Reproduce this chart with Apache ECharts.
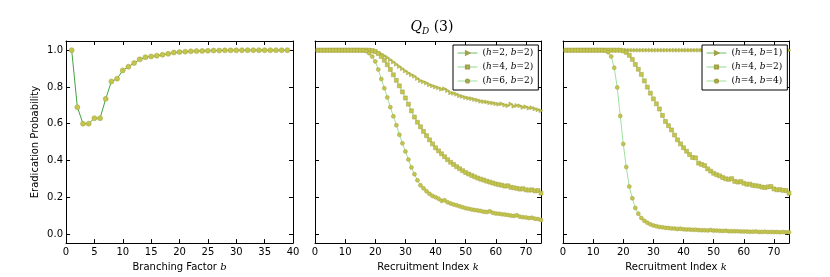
<!DOCTYPE html>
<html><head><meta charset="utf-8">
<script src="https://cdn.jsdelivr.net/npm/echarts@6/dist/echarts.min.js"></script>
<style>html,body{margin:0;padding:0;background:#fff}#c{width:830px;height:277px}</style>
</head><body><div id="c"></div>
<script>
// ---- data ----
var bValues = [1,2,3,4,5,6,7,8,9,10,11,12,13,14,15,16,17,18,19,20,21,22,23,24,25,26,27,28,29,30,31,32,33,34,35,36,37,38,39];
var probByB = [1.0,0.69,0.60,0.60,0.63,0.63,0.735,0.83,0.845,0.89,0.91,0.93,0.95,0.962,0.966,0.97,0.975,0.98,0.987,0.99,0.992,0.994,0.995,0.996,0.997,0.998,0.998,0.999,0.999,0.999,1.0,1.0,1.0,1.0,1.0,1.0,1.0,1.0,1.0];

var kValues = [1,2,3,4,5,6,7,8,9,10,11,12,13,14,15,16,17,18,19,20,21,22,23,24,25,26,27,28,29,30,31,32,33,34,35,36,37,38,39,40,41,42,43,44,45,46,47,48,49,50,51,52,53,54,55,56,57,58,59,60,61,62,63,64,65,66,67,68,69,70,71,72,73,74,75];

var h2b2 = [1,1,1,1,1,1,1,1,1,1,1,1,1,1,1,1,1,0.999,0.997,0.993,0.987,0.979,0.970,0.960,0.948,0.936,0.923,0.911,0.899,0.887,0.876,0.866,0.858,0.846,0.834,0.828,0.821,0.812,0.806,0.800,0.795,0.788,0.790,0.780,0.768,0.765,0.760,0.752,0.748,0.742,0.739,0.736,0.731,0.728,0.722,0.720,0.718,0.714,0.712,0.709,0.706,0.708,0.701,0.698,0.707,0.695,0.699,0.697,0.689,0.692,0.685,0.687,0.681,0.676,0.671];
var h4b2 = [1,1,1,1,1,1,1,1,1,1,1,1,1,1,1,1,1,1,0.998,0.993,0.982,0.966,0.945,0.921,0.895,0.866,0.836,0.806,0.773,0.740,0.706,0.670,0.636,0.608,0.583,0.558,0.535,0.512,0.490,0.469,0.452,0.436,0.420,0.404,0.390,0.378,0.366,0.355,0.344,0.334,0.326,0.318,0.311,0.304,0.298,0.293,0.287,0.282,0.277,0.272,0.268,0.265,0.260,0.262,0.254,0.251,0.248,0.244,0.246,0.240,0.238,0.240,0.234,0.236,0.222];
var h6b2 = [1,1,1,1,1,1,1,1,1,1,1,1,1,1,1,0.999,0.995,0.984,0.965,0.939,0.895,0.843,0.793,0.743,0.690,0.640,0.592,0.540,0.493,0.449,0.405,0.362,0.325,0.292,0.265,0.248,0.232,0.218,0.207,0.200,0.192,0.180,0.183,0.172,0.166,0.160,0.156,0.150,0.145,0.140,0.137,0.133,0.130,0.128,0.125,0.121,0.119,0.123,0.115,0.111,0.110,0.107,0.105,0.103,0.100,0.098,0.101,0.094,0.091,0.090,0.086,0.088,0.083,0.081,0.076];

var h4b1 = [1,1,1,1,1,1,1,1,1,1,1,1,1,1,1,1,1,1,1,1,1,1,1,1,1,1,1,1,1,1,1,1,1,1,1,1,1,1,1,1,1,1,1,1,1,1,1,1,1,1,1,1,1,1,1,1,1,1,1,1,1,1,1,1,1,1,1,1,1,1,1,1,1,1,1];
var h4b2r = [1,1,1,1,1,1,1,1,1,1,1,1,1,1,1,1,1,1,1,0.996,0.988,0.972,0.950,0.922,0.896,0.868,0.833,0.799,0.766,0.735,0.708,0.680,0.645,0.612,0.589,0.566,0.538,0.512,0.490,0.469,0.450,0.432,0.416,0.414,0.385,0.378,0.372,0.354,0.342,0.330,0.322,0.316,0.307,0.300,0.297,0.301,0.286,0.282,0.285,0.276,0.270,0.271,0.264,0.262,0.260,0.255,0.252,0.256,0.258,0.245,0.240,0.241,0.237,0.236,0.222];
var h4b4 = [1,1,1,1,1,1,1,1,1,1,1,1,1,0.998,0.989,0.966,0.904,0.797,0.642,0.490,0.364,0.258,0.194,0.141,0.110,0.087,0.071,0.061,0.052,0.046,0.042,0.038,0.036,0.033,0.032,0.030,0.029,0.027,0.028,0.025,0.024,0.024,0.022,0.023,0.021,0.020,0.020,0.019,0.021,0.018,0.018,0.017,0.016,0.017,0.015,0.015,0.014,0.015,0.013,0.013,0.013,0.012,0.012,0.013,0.011,0.011,0.012,0.010,0.011,0.010,0.010,0.009,0.010,0.009,0.009];

var yTicks = [0, 0.2, 0.4, 0.6, 0.8, 1.0];
var legend2 = ['(h=2, b=2)', '(h=4, b=2)', '(h=6, b=2)'];
var legend3 = ['(h=4, b=1)', '(h=4, b=2)', '(h=4, b=4)'];

// ---- chart ----
function pairs(xs, ys){ return xs.map(function(x,i){ return [x, ys[i]]; }); }
var grids = [
  {left: 66, top: 41, width: 227, height: 205},
  {left: 315, top: 41, width: 226, height: 205},
  {left: 563, top: 41, width: 226, height: 205}
];
var font = 'DejaVu Sans';
var serif = 'DejaVu Serif';
var xAxes = [], yAxes = [];
var xr = [[0,40,5],[0,75,10],[0,75,10]];
var xNames = ['Branching Factor {i|b}', 'Recruitment Index {i|k}', 'Recruitment Index {i|k}'];
for (var g = 0; g < 3; g++) {
  xAxes.push({type:'value', gridIndex:g, min:xr[g][0], max:xr[g][1], interval:xr[g][2], position:'bottom',
    axisLine:{onZero:false, lineStyle:{color:'#000', width:1}},
    axisTick:{inside:true, length:4, lineStyle:{color:'#000'}},
    axisLabel:{color:'#000', fontFamily:font, fontSize:10, margin:4, showMaxLabel: g===0},
    splitLine:{show:false},
    name: xNames[g], nameLocation:'middle', nameGap:15,
    nameTextStyle:{color:'#000', fontFamily:font, fontSize:10, rich:{i:{fontFamily:serif, fontStyle:'italic', fontSize:10}}}
  });
  xAxes.push({type:'value', gridIndex:g, min:xr[g][0], max:xr[g][1], interval:xr[g][2], position:'top',
    axisLine:{onZero:false, lineStyle:{color:'#000', width:1}},
    axisTick:{inside:true, length:4, lineStyle:{color:'#000'}},
    axisLabel:{show:false}, splitLine:{show:false}});
  yAxes.push({type:'value', gridIndex:g, min:-0.05, max:1.05, position:'left',
    axisLine:{onZero:false, show:true, lineStyle:{color:'#000', width:1}},
    axisTick:{show:true, inside:true, length:4, lineStyle:{color:'#000'}, customValues: yTicks},
    axisLabel:{show: g===0, color:'#000', fontFamily:font, fontSize:10, margin:3, customValues: yTicks,
      formatter:function(v){ return v.toFixed(1); }},
    splitLine:{show:false},
    name: g===0 ? 'Eradication Probability' : '', nameLocation:'middle', nameGap:26,
    nameTextStyle:{color:'#000', fontFamily:font, fontSize:10}
  });
  yAxes.push({type:'value', gridIndex:g, min:-0.05, max:1.05, position:'right',
    axisLine:{onZero:false, show:true, lineStyle:{color:'#000', width:1}},
    axisTick:{show:true, inside:true, length:4, lineStyle:{color:'#000'}, customValues: yTicks},
    axisLabel:{show:false, customValues: yTicks}, splitLine:{show:false}});
}
var mk = '#c3c64a', mkEdge = '#a3a14a';
var lineCols = ['#6fbf6f', '#8ed88e', '#9fe09f'];
function ser(name, g, data, symbol, lineColor, rot){
  return {type:'line', name:name, xAxisIndex:2*g, yAxisIndex:2*g, data:data,
    symbol:symbol, symbolSize:4, symbolRotate: rot||0, showAllSymbol:true,
    lineStyle:{color:lineColor, width:1}, itemStyle:{color:mk, borderColor:mkEdge, borderWidth:0.5},
    emphasis:{disabled:true}, animation:false, z:3};
}
var series = [
  ser('b', 0, pairs(bValues, probByB), 'circle', '#3fa33f'),
  ser(legend2[0], 1, pairs(kValues, h2b2), 'triangle', lineCols[0], -90),
  ser(legend2[1], 1, pairs(kValues, h4b2), 'rect', lineCols[1]),
  ser(legend2[2], 1, pairs(kValues, h6b2), 'circle', lineCols[2]),
  ser(legend3[0], 2, pairs(kValues, h4b1), 'triangle', lineCols[0], -90),
  ser(legend3[1], 2, pairs(kValues, h4b2r), 'rect', lineCols[1]),
  ser(legend3[2], 2, pairs(kValues, h4b4), 'circle', lineCols[2])
];
series[0].symbolSize = 5;
function legendFmt(name){ return name.replace(/h/,'{i|h}').replace(/b/,'{i|b}'); }
function mkLegend(data, left){
  return {data:data.map(function(n,i){ return {name:n, lineStyle:{color:lineCols[i], width:1}}; }),
    orient:'vertical', left:left, top:45,
    backgroundColor:'#fff', borderColor:'#000', borderWidth:1, padding:[2,5,3,4],
    itemGap:2, itemWidth:20, itemHeight:4, selectedMode:false,
    formatter: legendFmt,
    textStyle:{fontFamily:serif, fontSize:9, lineHeight:12, color:'#000', rich:{i:{fontFamily:serif, fontStyle:'italic', fontSize:9, lineHeight:12}}}};
}
var option = {
  animation:false,
  title:{text:'{q|Q}{s|D}{n| (3)}', left:427, top:14, textAlign:'center',
    textStyle:{fontWeight:'normal', rich:{
      q:{fontFamily:serif, fontStyle:'italic', fontWeight:'normal', fontSize:14, color:'#000'},
      s:{fontFamily:serif, fontStyle:'italic', fontWeight:'normal', fontSize:9, color:'#000', padding:[8,0,0,0]},
      n:{fontFamily:serif, fontWeight:'normal', fontSize:14, color:'#000'}
    }}},
  grid: grids,
  xAxis: xAxes,
  yAxis: yAxes,
  legend:[mkLegend(legend2, 453), mkLegend(legend3, 702)],
  series: series
};
var chart = echarts.init(document.getElementById('c'), null, {renderer:'canvas'});
chart.setOption(option);
</script></body></html>
